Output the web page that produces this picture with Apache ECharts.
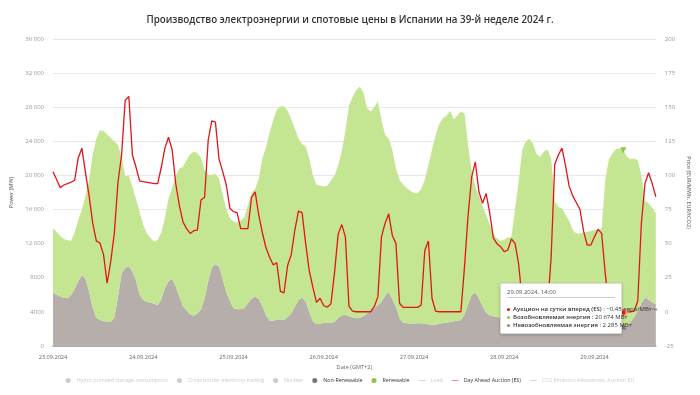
<!DOCTYPE html>
<html><head><meta charset="utf-8">
<script src="https://cdn.jsdelivr.net/npm/echarts@6/dist/echarts.min.js"></script>
<style>html,body{margin:0;padding:0;background:#fff}#c{width:700px;height:395px}</style>
</head><body><div id="c"></div>
<script>
const days = ['23.09.2024','24.09.2024','25.09.2024','26.09.2024','27.09.2024','28.09.2024','29.09.2024'];
const categories = [];
days.forEach(d => { for (let h = 0; h < 24; h++) categories.push(d + ', ' + String(h).padStart(2, '0') + ':00'); });

const nonRenewable = [6180,6000,5800,5650,5600,5940,6700,7600,8300,7900,
6400,4500,3300,3050,2950,2820,2800,3300,5780,8500,
9150,9350,8700,7700,6000,5400,5150,5100,4950,4810,
5450,6800,7600,7900,6960,5800,4700,4200,3700,3550,
3800,4300,5600,7600,9200,9600,9300,7900,6300,5300,
4420,4320,4350,4420,5000,5550,5800,5500,4700,3600,
3000,2950,3100,3100,3050,3400,3800,4600,5400,5700,
5200,4000,2900,2540,2650,2700,2720,2740,2800,3300,
3600,3630,3500,3350,3250,3300,3500,3800,4100,4400,
4800,5200,5900,6350,5500,4610,3240,2750,2660,2650,
2650,2660,2660,2600,2550,2480,2500,2600,2700,2740,
2800,2900,2950,3050,3700,4900,6000,6250,5600,4700,
3900,3600,3500,3440,3300,3100,3000,2850,2750,2650,
2600,2550,2500,2500,2550,2600,2700,2900,3200,3500,
3700,3700,3500,3300,3100,2950,2850,2750,2700,2650,
2600,2550,2500,2450,2420,2400,2400,2350,2285,2400,
2800,3400,4100,5000,5700,5450,5100,4920];

const renewable = [7620,7400,7100,6900,6800,6410,6600,7200,7700,9700,
13100,17900,21000,22250,22250,21980,21600,20700,17790,13700,
10750,10650,9970,9500,9700,8800,8050,7600,7290,7620,
7850,8200,9700,10600,13040,15000,16300,17600,18800,19250,
18800,17800,15000,12500,10850,10600,10300,9900,9700,9700,
10170,10160,10350,10680,11500,12350,12600,14100,17300,19700,
22000,23550,24600,25000,25050,24200,22800,20900,18900,18000,
18200,18000,17100,16360,16130,16000,16080,16660,17200,17900,
19200,21570,24700,25850,26750,27100,26200,24100,23400,23600,
23900,21300,18900,17950,17500,16190,16260,16150,15840,15550,
15300,15240,15740,16900,18650,20520,22250,23400,24000,24260,
24800,23700,24050,24450,23600,18600,14500,12450,12000,11700,
11500,10600,9700,9160,9000,9400,9700,10000,13250,16650,
20400,21450,21800,21200,19950,19600,20100,20100,18800,13500,
12600,12450,11900,11400,10500,10250,10350,10550,10700,10850,
11000,11150,11300,17050,19480,20200,20700,20850,20674,19800,
19100,18600,17700,15000,11300,11300,11100,10640];

const dayAhead = [102.7,97,91,93,94,95,96.5,113,120,102,
85,65,52,50.5,42,21,37,58,95,115,
155,158,115,106,96,95.5,95,94.5,94,94,
106,120,128,119,94,78,66,61,57.5,59.5,
60,82,84,126,140,139,112,103,93,76,
73.5,72.7,61,61,61,84,88,71,58,47,
40,34.5,36,15,14,34,42,60,73.9,72.7,
50,30,18,7,10,4.5,3.5,6,29,57,
64,55,4,0.5,0.1,0.1,0.1,0.1,0.1,3.8,
11,55,65,72,56,50.2,6.3,3.3,3.3,3.3,
3.3,3.3,5.1,45,52,10,0.5,0.1,0.1,0.1,
0.1,0.1,0.1,0.1,33,71,99,110,88,79.6,
86.7,72.3,54,50,47.8,44.1,45.4,53.4,50.2,35,
8,2,1,0.5,0.5,1,2,3,40,108,
115,120,107,92,85,80,75,59,49,49,
55,60.5,57.5,28,3,1,0,-1,-0.45,0,
0.1,0.5,8,65,94,102,94,84.4];

const legendNames = ['Hydro pumped storage consumption','Cross border electricity trading','Nuclear','Non-Renewable','Renewable','Load','Day Ahead Auction (ES)','CO2 Emission Allowances, Auction EU'];
const tooltipNames = {'Day Ahead Auction (ES)':'Аукцион на сутки вперед (ES)','Renewable':'Возобновляемая энергия','Non-Renewable':'Невозобновляемая энергия'};
const tooltipIndex = 158;

const FONT = 'Open Sans';
const lineIcon = 'path://M0,4.2L14,4.2L14,5.8L0,5.8Z';

const fmtInt = v => String(Math.round(v)).replace(/\B(?=(\d{3})+(?!\d))/g, ' ');
const fmtAxis = v => v >= 10000 ? fmtInt(v) : String(v);
const fmtPrice = v => (v < 0 ? '−' : '') + Math.abs(v).toFixed(2).replace('.', ',');

const legendIconColors = {'Day Ahead Auction (ES)': '#ee7070'};

const chart = echarts.init(document.getElementById('c'), null, {renderer: 'canvas'});
const option = {
  animation: false,
  textStyle: {fontFamily: FONT},
  title: {
    text: 'Производство электроэнергии и спотовые цены в Испании на 39-й неделе 2024 г.',
    left: 'center', top: 10,
    textStyle: {fontFamily: FONT, fontSize: 9.8, fontWeight: 600, color: '#333'}
  },
  grid: {left: 53, right: 40, top: 39, bottom: 49, containLabel: false},
  legend: {
    bottom: 7, left: 'center', itemWidth: 7, itemHeight: 5, itemGap: 9,
    textStyle: {fontFamily: FONT, fontSize: 5.3, color: '#333'},
    inactiveColor: '#ccc',
    selected: {
      'Hydro pumped storage consumption': false, 'Cross border electricity trading': false,
      'Nuclear': false, 'Load': false, 'CO2 Emission Allowances, Auction EU': false
    },
    data: legendNames.map((n, i) => {
      const item = {name: n, icon: (i === 5 || i === 6 || i === 7) ? lineIcon : 'circle'};
      if (legendIconColors[n]) item.itemStyle = {color: legendIconColors[n], borderWidth: 0};
      return item;
    })
  },
  tooltip: {
    trigger: 'axis', triggerOn: 'none', alwaysShowContent: true, transitionDuration: 0,
    axisPointer: {type: 'none'},
    position: [500, 283],
    backgroundColor: '#fff', borderColor: '#ddd', borderWidth: 1, padding: [4, 6],
    extraCssText: 'width:108px;height:41px;overflow:visible;box-shadow:0 1px 3px rgba(0,0,0,0.25);border-radius:2px;',
    formatter: function (params) {
      const row = (name, color, val) => '<div style="white-space:nowrap;line-height:8px;font-size:6px;color:#333">' +
        '<span style="display:inline-block;width:3px;height:3px;border-radius:50%;background:' + color + ';margin-right:3px;vertical-align:middle"></span>' +
        '<b style="font-weight:600">' + tooltipNames[name] + '</b> : ' + val + '</div>';
      const idx = params[0].dataIndex;
      let html = '<div style="font-family:Open Sans">';
      html += '<div style="font-size:6px;line-height:8px;color:#555;padding-bottom:1px;border-bottom:1px solid #ccc;margin-bottom:7px">' + categories[idx] + '</div>';
      html += row('Day Ahead Auction (ES)', '#e3141b', fmtPrice(dayAhead[idx]) + ' евро/МВт·ч');
      html += row('Renewable', '#8cc63f', fmtInt(renewable[idx]) + ' МВт');
      html += row('Non-Renewable', '#8a8a8a', fmtInt(nonRenewable[idx]) + ' МВт');
      html += '</div>';
      return html;
    }
  },
  xAxis: {
    type: 'category', data: categories, boundaryGap: false,
    name: 'Date (GMT+2)', nameLocation: 'middle', nameGap: 15,
    nameTextStyle: {fontFamily: FONT, fontSize: 5.6, color: '#666'},
    axisLine: {lineStyle: {color: '#999', width: 1.5}},
    axisTick: {show: false},
    axisLabel: {interval: 24, fontSize: 5.6, color: '#666', margin: 8, formatter: v => v.split(',')[0]},
    splitLine: {show: false}
  },
  yAxis: [{
    type: 'value', min: 0, max: 36000, interval: 4000,
    name: 'Power (MW)', nameLocation: 'middle', nameGap: 33, nameRotate: 90,
    nameTextStyle: {fontFamily: FONT, fontSize: 5.6, color: '#555'},
    axisLine: {show: false}, axisTick: {show: false},
    axisLabel: {fontSize: 6, color: '#999', margin: 9, formatter: fmtAxis},
    splitLine: {lineStyle: {color: '#e8e8e8', width: 1}}
  }, {
    type: 'value', min: -25, max: 200, interval: 25,
    name: 'Price (EUR/MWh, EUR/tCO2)', nameLocation: 'middle', nameGap: 27, nameRotate: -90,
    nameTextStyle: {fontFamily: FONT, fontSize: 5.6, color: '#555'},
    axisLine: {show: false}, axisTick: {show: false},
    axisLabel: {fontSize: 6, color: '#999', margin: 9},
    splitLine: {show: false}
  }],
  series: [
    {name: 'Hydro pumped storage consumption', type: 'line', data: [], itemStyle: {color: '#5fa8d3'}},
    {name: 'Cross border electricity trading', type: 'line', data: [], itemStyle: {color: '#999'}},
    {name: 'Nuclear', type: 'line', data: [], itemStyle: {color: '#e06d2e'}},
    {name: 'Non-Renewable', type: 'line', stack: 'power', data: nonRenewable,
      showSymbol: false, symbol: 'triangle', symbolSize: 5,
      itemStyle: {color: '#7a7573'}, lineStyle: {width: 0},
      areaStyle: {color: '#b5aeab', opacity: 1}, emphasis: {disabled: true}},
    {name: 'Renewable', type: 'line', stack: 'power', data: renewable,
      showSymbol: false, symbol: 'triangle', symbolRotate: 180, symbolSize: 5,
      itemStyle: {color: '#8cc63f'}, lineStyle: {width: 0},
      areaStyle: {color: '#c4e591', opacity: 1}, emphasis: {disabled: true}},
    {name: 'Load', type: 'line', data: [], itemStyle: {color: '#999'}},
    {name: 'Day Ahead Auction (ES)', type: 'line', yAxisIndex: 1, data: dayAhead, z: 5,
      showSymbol: false, symbol: 'circle', symbolSize: 5,
      itemStyle: {color: '#e3141b', borderColor: 'rgba(240,160,110,0.8)', borderWidth: 2},
      lineStyle: {color: '#e3141b', width: 1.3}, emphasis: {disabled: true}},
    {name: 'CO2 Emission Allowances, Auction EU', type: 'line', yAxisIndex: 1, data: [], itemStyle: {color: '#aaa'}}
  ]
};
chart.setOption(option);
const show = () => chart.dispatchAction({type: 'showTip', seriesIndex: 6, dataIndex: tooltipIndex});
show();
setTimeout(show, 50);
</script></body></html>
